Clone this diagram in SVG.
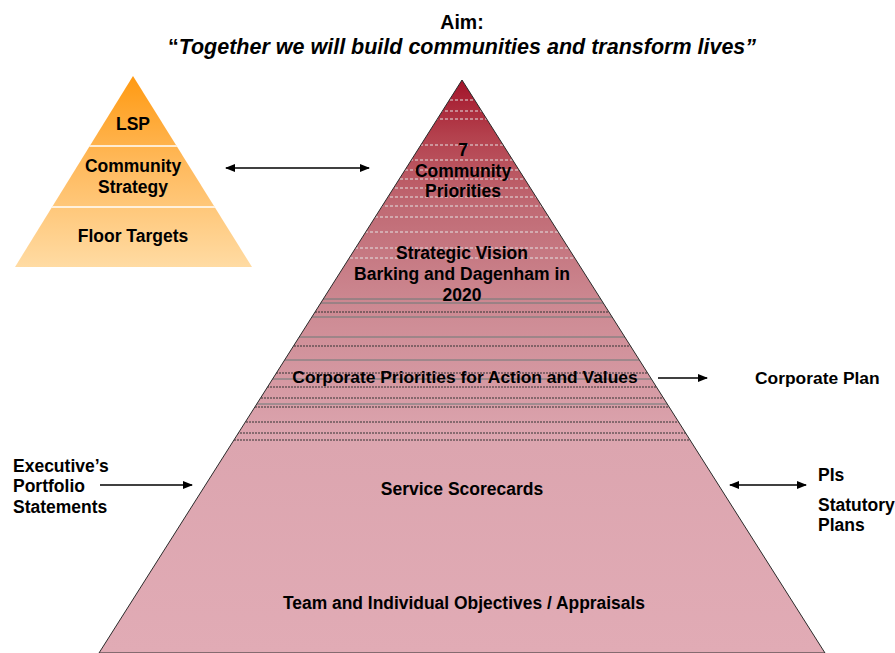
<svg xmlns="http://www.w3.org/2000/svg" width="895" height="653" viewBox="0 0 895 653">
<defs>
<linearGradient id="gBig" gradientUnits="userSpaceOnUse" x1="0" y1="80" x2="0" y2="653">
<stop offset="0" stop-color="#A3142A"/>
<stop offset="0.1" stop-color="#B4424E"/>
<stop offset="0.22" stop-color="#C06A74"/>
<stop offset="0.4" stop-color="#CD8A93"/>
<stop offset="0.63" stop-color="#DCA5AF"/>
<stop offset="1" stop-color="#E1ABB5"/>
</linearGradient>
<linearGradient id="gSmall" gradientUnits="userSpaceOnUse" x1="0" y1="76" x2="0" y2="267">
<stop offset="0" stop-color="#FF9A12"/>
<stop offset="0.5" stop-color="#FFBC62"/>
<stop offset="1" stop-color="#FFDBA3"/>
</linearGradient>
<clipPath id="clipBig"><polygon points="462,80 825,653 99,653"/></clipPath>
<clipPath id="clipSmall"><polygon points="133,76 252,267 15,267"/></clipPath>
<marker id="ah" viewBox="0 0 10 8" refX="9" refY="4" markerWidth="10" markerHeight="8" markerUnits="userSpaceOnUse" orient="auto-start-reverse">
<path d="M0,0 L10,4 L0,8 z" fill="#000"/>
</marker>
</defs>
<style>
text{font-family:"Liberation Sans",Arial,sans-serif;font-weight:bold;fill:#000}
.lbl{font-size:17.5px}
.ctr{text-anchor:middle}
.wd{stroke:#E4E4E4;stroke-width:1;stroke-dasharray:3,2}
.gl{stroke:#6A7A78;stroke-width:1}
.dk{stroke:#333;stroke-width:1;stroke-dasharray:2,1}
.conn{stroke:#000;stroke-width:1.6;fill:none}
</style>

<g id="title">
<text x="462" y="29" class="ctr" font-size="19.5">Aim:</text>
<text x="462" y="54" class="ctr" font-size="21.5"><tspan font-style="normal">“</tspan><tspan font-style="italic">Together we will build communities and transform lives”</tspan></text>
</g>

<g id="small-pyramid">
<polygon points="133,76 252,267 15,267" fill="url(#gSmall)"/>
<g clip-path="url(#clipSmall)">
<line x1="0" y1="146" x2="300" y2="146" stroke="#FFFFFF" stroke-width="1.5"/>
<line x1="0" y1="207" x2="300" y2="207" stroke="#FFFFFF" stroke-width="1.5"/>
</g>
<text x="133" y="130" class="lbl ctr">LSP</text>
<text x="133" y="172" class="lbl ctr">Community</text>
<text x="133" y="193" class="lbl ctr">Strategy</text>
<text x="133" y="242" class="lbl ctr">Floor Targets</text>
</g>

<g id="main-pyramid">
<polygon points="462,80 825,653 99,653" fill="url(#gBig)"/>
<g clip-path="url(#clipBig)">
<line class="wd" x1="90" y1="100" x2="830" y2="100"/>
<line class="wd" x1="90" y1="111" x2="830" y2="111"/>
<line class="wd" x1="90" y1="119" x2="830" y2="119"/>
<line class="wd" x1="90" y1="145" x2="830" y2="145"/>
<line class="wd" x1="90" y1="160" x2="830" y2="160"/>
<line class="wd" x1="90" y1="170" x2="830" y2="170"/>
<line class="wd" x1="90" y1="179" x2="830" y2="179"/>
<line class="wd" x1="90" y1="188" x2="830" y2="188"/>
<line class="wd" x1="90" y1="197" x2="830" y2="197"/>
<line class="wd" x1="90" y1="206" x2="830" y2="206"/>
<line class="wd" x1="90" y1="217" x2="830" y2="217"/>
<line class="wd" x1="90" y1="232" x2="830" y2="232"/>
<line class="wd" x1="90" y1="248" x2="830" y2="248"/>
<line class="wd" x1="90" y1="258" x2="830" y2="258"/>
<line class="gl" x1="90" y1="299" x2="830" y2="299"/>
<line class="gl" x1="90" y1="303" x2="830" y2="303"/>
<line class="dk" x1="90" y1="312" x2="830" y2="312"/>
<line class="gl" x1="90" y1="317" x2="830" y2="317"/>
<line class="gl" x1="90" y1="337" x2="830" y2="337"/>
<line class="dk" x1="90" y1="346" x2="830" y2="346"/>
<line class="gl" x1="90" y1="360" x2="830" y2="360"/>
<line class="dk" x1="90" y1="373" x2="830" y2="373"/>
<line class="gl" x1="90" y1="379" x2="830" y2="379"/>
<line class="dk" x1="90" y1="387" x2="830" y2="387"/>
<line class="dk" x1="90" y1="398" x2="830" y2="398"/>
<line class="gl" x1="90" y1="404" x2="830" y2="404"/>
<line class="dk" x1="90" y1="407" x2="830" y2="407"/>
<line class="dk" x1="90" y1="422" x2="830" y2="422"/>
<line class="dk" x1="90" y1="433" x2="830" y2="433"/>
<line class="dk" x1="90" y1="440" x2="830" y2="440"/>
</g>
<polygon points="462,80 825,653 99,653" fill="none" stroke="#2A2A2A" stroke-width="1"/>
<text x="463" y="156" class="lbl ctr">7</text>
<text x="463" y="177" class="lbl ctr">Community</text>
<text x="463" y="197" class="lbl ctr">Priorities</text>
<text x="462" y="259" class="lbl ctr">Strategic Vision</text>
<text x="462" y="280" class="lbl ctr">Barking and Dagenham in</text>
<text x="462" y="301" class="lbl ctr">2020</text>
<text x="465" y="383" class="ctr" font-size="17.4">Corporate Priorities for Action and Values</text>
<text x="462" y="495" class="lbl ctr">Service Scorecards</text>
<text x="464" y="609" class="ctr" font-size="17.5" textLength="362" lengthAdjust="spacingAndGlyphs">Team and Individual Objectives / Appraisals</text>
</g>

<g id="side-labels">
<text x="755" y="384" font-size="17.4">Corporate Plan</text>
<text x="818" y="481" class="lbl">PIs</text>
<text x="818" y="511" class="lbl">Statutory</text>
<text x="818" y="531" class="lbl">Plans</text>
<text x="13" y="472" class="lbl">Executive’s</text>
<text x="13" y="492" class="lbl">Portfolio</text>
<text x="13" y="513" class="lbl">Statements</text>
</g>

<g id="connectors">
<line class="conn" x1="226" y1="168" x2="369" y2="168" marker-start="url(#ah)" marker-end="url(#ah)"/>
<line class="conn" x1="658" y1="378" x2="707" y2="378" marker-end="url(#ah)"/>
<line class="conn" x1="100" y1="485" x2="192" y2="485" marker-end="url(#ah)"/>
<line class="conn" x1="730" y1="485" x2="806" y2="485" marker-start="url(#ah)" marker-end="url(#ah)"/>
</g>
</svg>
